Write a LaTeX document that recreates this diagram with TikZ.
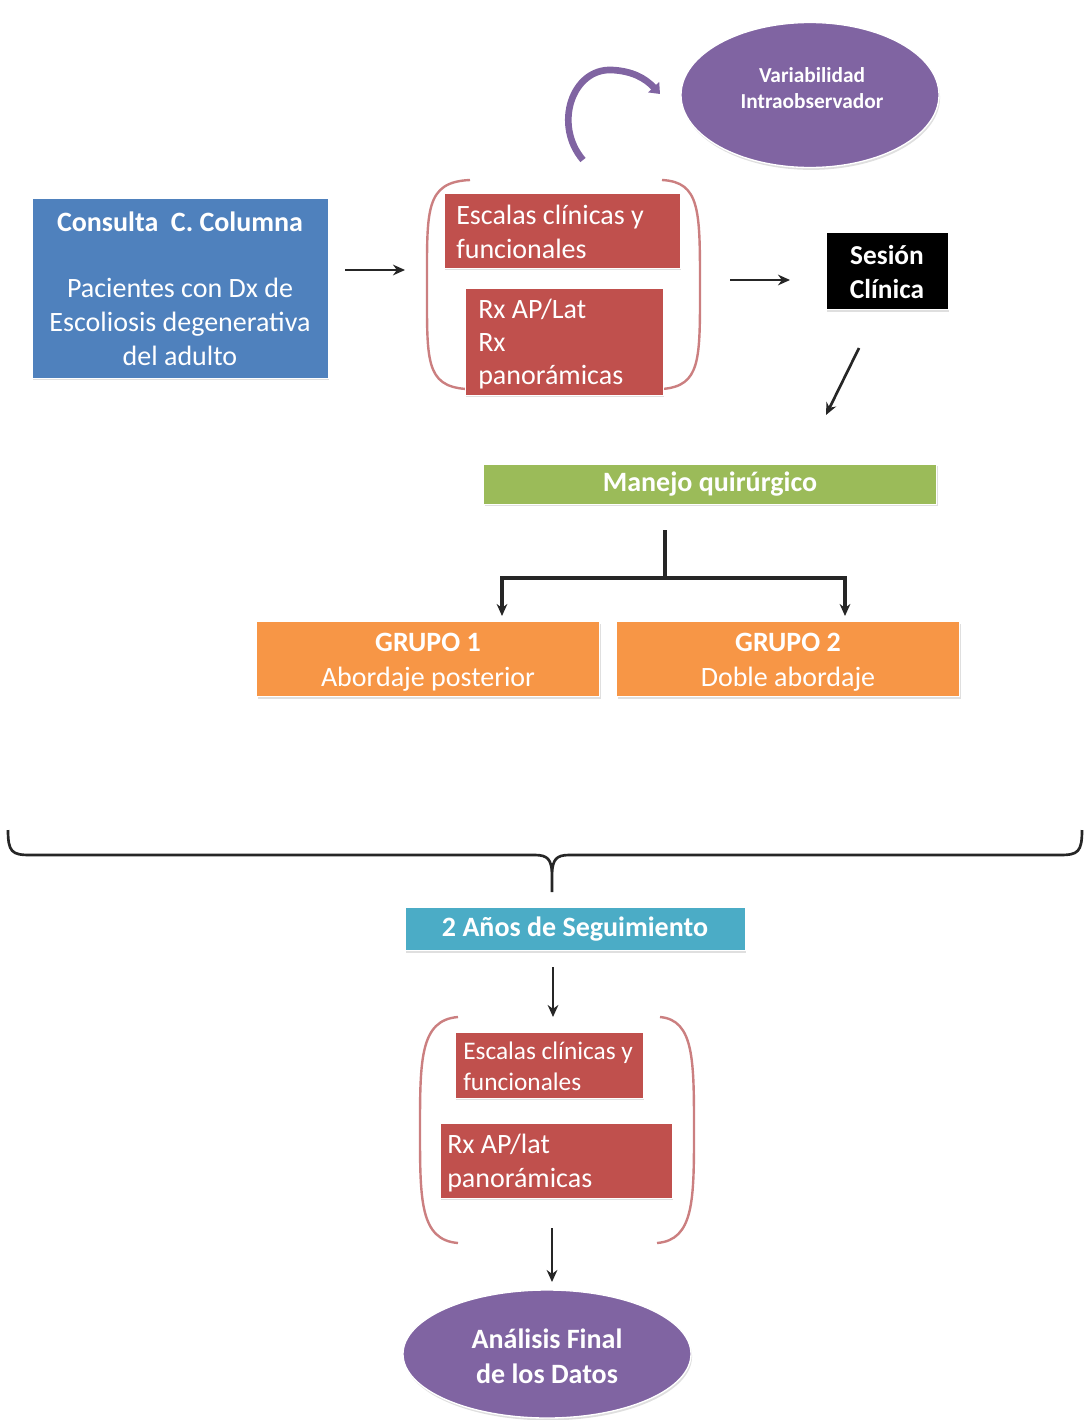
\documentclass[tikz,border=0pt]{standalone}
\usepackage{fontspec}
\setmainfont{Carlito}
\usetikzlibrary{arrows.meta,shapes.geometric,shadows}
\definecolor{cblue}{HTML}{4F81BD}
\definecolor{cred}{HTML}{C0504D}
\definecolor{cpink}{HTML}{CB7F80}
\definecolor{cgreen}{HTML}{9BBB59}
\definecolor{corange}{HTML}{F79646}
\definecolor{ccyan}{HTML}{4BACC6}
\definecolor{cpurple}{HTML}{8064A2}
\tikzset{
  box/.style={draw=white, line width=0.6pt, text=white, inner sep=0pt, drop shadow={shadow xshift=0.8pt, shadow yshift=-1.8pt, opacity=0.25}},
  txt/.style={text=white, inner sep=0pt},
  arr/.style={-{Stealth[length=9pt,width=8pt]}, line width=2pt, black!85},
  paren/.style={draw=cpink, line width=1.8pt},
  ell/.style={ellipse, fill=cpurple, draw=white, line width=1pt, text=white, inner sep=0pt, drop shadow={shadow xshift=0.8pt, shadow yshift=-1.8pt, opacity=0.25}}
}
\begin{document}
\begin{tikzpicture}[x=0.75pt,y=-0.75pt]
\useasboundingbox (0,0) rectangle (1087,1420);
% top ellipse
\node[ell, minimum width={258*0.75pt}, minimum height={145*0.75pt}] (var) at (810,95) {};
\node[txt, align=center, font=\bfseries\fontsize{16}{19.5}\selectfont] (varT) at (812,88) {Variabilidad\\Intraobservador};
% circular arrow
\coordinate (ca1) at (583,160);
\coordinate (ca2) at (660,94);
\draw[cpurple, line width=5pt, -{Triangle[length=7pt,width=11pt]}] (ca1) .. controls (553,125) and (572,68) .. (612,70) .. controls (632,71) and (645,78) .. (ca2);
% blue box
\node[box, fill=cblue, minimum width={296*0.75pt}, minimum height={180*0.75pt}] (cons) at (180,288) {};
\node[txt, font=\bfseries\fontsize{21}{25}\selectfont] (consT) at (180,222) {Consulta\ \ C. Columna};
\node[txt, align=center, font=\fontsize{21}{25.5}\selectfont] (consB) at (180,322) {Pacientes con Dx de\\Escoliosis degenerativa\\del adulto};
% arrow
\draw[arr] (cons.east) ++(17,-18) coordinate (a1s) -- (405,270) coordinate (a1e);
% parens group 1
\draw[paren] (470,180) .. controls (425,182) and (427,210) .. (427,285) .. controls (427,360) and (425,386) .. (466,389);
\draw[paren] (662,180) .. controls (700,182) and (700,210) .. (700,285) .. controls (700,360) and (701,386) .. (662,389);
% red boxes
\node[box, fill=cred, minimum width={236*0.75pt}, minimum height={75*0.75pt}] (esc1) at (562,230.5) {};
\node[txt, align=left, anchor=west, font=\fontsize{21}{25}\selectfont] (esc1t) at (456,232) {Escalas clínicas y\\funcionales};
\node[box, fill=cred, minimum width={198*0.75pt}, minimum height={107*0.75pt}] (rx1) at (564,341.5) {};
\node[txt, align=left, anchor=west, font=\fontsize{21}{25}\selectfont] (rx1t) at (478,344) {Rx AP/Lat\\Rx\\panorámicas};
% arrow
\coordinate (a2s) at (730,280);
\coordinate (a2e) at (790,280);
\draw[arr] (a2s) -- (a2e);
% sesion clinica
\node[box, fill=black, minimum width={122*0.75pt}, minimum height={77*0.75pt}] (ses) at (887,271) {};
\node[txt, align=center, font=\bfseries\fontsize{20.5}{25}\selectfont] (sesT) at (887,272) {Sesión\\Clínica};
% diagonal arrow
\coordinate (a3s) at (859,348);
\coordinate (a3e) at (826,415);
\draw[arr] (a3s) -- (a3e);
% manejo
\node[box, fill=cgreen, minimum width={453*0.75pt}, minimum height={40*0.75pt}, font=\bfseries\fontsize{21}{25}\selectfont] (man) at (710,484) {Manejo quirúrgico};
% branch
\coordinate (b0) at (665,530);
\coordinate (bj) at (665,578);
\coordinate (b1) at (502,616);
\coordinate (b2) at (845,616);
\draw[line width=2.4pt, black!85] (b0) -- (bj);
\draw[arr, line width=2.4pt] (bj) -| (b1);
\draw[arr, line width=2.4pt] (bj) -| (b2);
% grupos
\node[box, fill=corange, minimum width={343*0.75pt}, minimum height={75*0.75pt}] (g1) at (428,659) {};
\node[txt, align=center, font=\fontsize{21}{26}\selectfont] (g1t) at (428,662) {\textbf{GRUPO 1}\\Abordaje posterior};
\node[box, fill=corange, minimum width={343*0.75pt}, minimum height={75*0.75pt}] (g2) at (788,659) {};
\node[txt, align=center, font=\fontsize{21}{26}\selectfont] (g2t) at (788,662) {\textbf{GRUPO 2}\\Doble abordaje};
% brace
\coordinate (brL) at (8,830);
\coordinate (brR) at (1082,830);
\coordinate (brT) at (552,892);
\draw[line width=2pt, black!85] (brL) .. controls (8,852) and (12,855) .. (30,855) -- (535,855) .. controls (548,855) and (551,860) .. (552,872) -- (brT);
\draw[line width=2pt, black!85] (brR) .. controls (1082,852) and (1078,855) .. (1060,855) -- (569,855) .. controls (556,855) and (553,860) .. (552,872);
% seguimiento
\node[box, fill=ccyan, minimum width={340*0.75pt}, minimum height={43*0.75pt}, font=\bfseries\fontsize{21}{25}\selectfont] (seg) at (575,929) {2 Años de Seguimiento};
% arrow
\draw[arr] (553,967) -- (553,1017);
% parens group 2
\draw[paren] (458,1017) .. controls (420,1020) and (420,1060) .. (420,1130) .. controls (420,1200) and (420,1240) .. (458,1243);
\draw[paren] (660,1017) .. controls (694,1020) and (694,1060) .. (694,1130) .. controls (694,1200) and (694,1240) .. (657,1243);
% red boxes 2
\node[box, fill=cred, minimum width={188*0.75pt}, minimum height={66*0.75pt}] (esc2) at (549,1065) {};
\node[txt, align=left, anchor=west, font=\fontsize{19}{23.25}\selectfont] (esc2t) at (463,1066) {Escalas clínicas y\\funcionales};
\node[box, fill=cred, minimum width={232*0.75pt}, minimum height={75*0.75pt}] (rx2) at (556,1160.5) {};
\node[txt, align=left, anchor=west, font=\fontsize{21}{26}\selectfont] (rx2t) at (447,1163) {Rx AP/lat\\panorámicas};
% arrow to analysis
\draw[arr] (552,1228) -- (552,1282);
% final ellipse
\node[ell, minimum width={288*0.75pt}, minimum height={128*0.75pt}] (fin) at (547,1354) {};
\node[txt, align=center, font=\bfseries\fontsize{21}{26}\selectfont] (finT) at (547,1356) {Análisis Final\\de los Datos};
\end{tikzpicture}
\end{document}
